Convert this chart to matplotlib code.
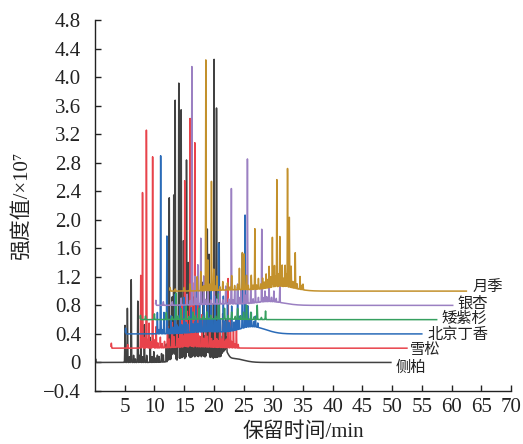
import numpy as np
import matplotlib
matplotlib.use("Agg")
import matplotlib.pyplot as plt

FAM = ['Liberation Serif', 'Noto Sans CJK SC', 'DejaVu Sans']
plt.rcParams['font.family'] = FAM

# ---------------- data ----------------
names = ['侧柏', '雪松', '北京丁香', '矮紫杉', '银杏', '月季']
colors = ['#414141', '#e8434b', '#2a6bb8', '#37a060', '#9b80c2', '#c3912c']
baselines = [0.0, 0.2, 0.4, 0.6, 0.8, 1.0]
starts = [0.0, 2.7, 5.1, 7.6, 10.2, 12.6]
ends = [49.8, 52.5, 55.0, 57.5, 60.2, 62.5]

# major peaks: (retention time min, height above baseline, x10^7)
peaks_cebai = [(0.1, 0.05), (5.05, 0.52), (5.45, 0.76), (6.1, 1.16), (7.2, 0.86),
               (7.7, 0.2), (8.3, 0.53), (9.3, 0.35), (9.9, 0.15), (10.5, 0.1),
               (11.2, 0.12), (12.5, 2.25), (13.0, 0.9), (13.25, 2.33), (13.5, 3.65),
               (14.1, 3.88), (14.5, 3.5), (14.9, 1.6), (15.4, 2.78), (15.7, 1.3),
               (16.5, 0.8), (17.1, 0.9), (18.2, 1.0), (18.9, 1.8), (19.2, 1.45),
               (19.6, 0.7), (20.05, 4.2), (20.45, 3.52), (20.9, 1.62), (21.5, 0.5),
               (22.0, 0.35)]
peaks_xuesong = [(2.75, 0.07), (5.5, 0.05), (7.7, 1.02), (8.0, 2.18), (8.65, 3.06),
                 (9.1, 0.35), (9.7, 2.68), (10.3, 0.3), (11.0, 0.15), (12.2, 0.3),
                 (13.0, 0.35), (13.8, 0.3), (14.6, 0.6), (15.1, 2.33), (15.5, 0.5),
                 (16.0, 3.2), (16.4, 0.9), (16.8, 2.86), (17.3, 0.6), (18.0, 0.45),
                 (18.6, 0.3), (19.3, 0.4), (20.2, 0.3), (21.0, 0.35), (21.6, 0.35),
                 (22.4, 0.97), (22.8, 0.4), (23.3, 0.35), (23.8, 0.25)]
peaks_dingxiang = [(5.15, 0.08), (10.5, 0.3), (11.05, 2.5), (11.6, 0.3), (12.1, 1.37),
                   (12.8, 0.25), (13.5, 0.55), (14.3, 0.4), (15.0, 0.5), (16.2, 0.35),
                   (17.0, 0.6), (17.6, 0.4), (18.3, 0.7), (19.0, 1.0), (19.5, 0.6),
                   (20.2, 0.5), (20.8, 1.24), (21.6, 0.5), (22.3, 0.4), (23.0, 0.35),
                   (24.0, 0.6), (24.8, 1.05), (25.25, 1.58), (25.7, 0.3), (26.3, 0.2),
                   (27.0, 0.15)]
peaks_aizishan = [(7.65, 0.06), (8.5, 0.05), (10.0, 0.08), (12.0, 0.1), (13.6, 0.37),
                  (14.5, 0.15), (15.3, 0.2), (16.5, 0.1), (17.5, 0.15), (18.8, 0.1),
                  (20.8, 0.35), (21.8, 0.15), (23.0, 0.1), (24.0, 0.15), (25.0, 0.1),
                  (25.5, 0.2), (26.2, 0.1), (27.3, 0.2), (28.7, 0.12)]
peaks_yinxing = [(10.25, 0.07), (11.5, 0.05), (13.0, 0.05), (14.5, 0.1), (15.5, 0.15),
                 (16.3, 3.34), (16.8, 0.4), (17.3, 0.56), (17.8, 0.93), (18.3, 0.4),
                 (19.0, 0.2), (20.0, 0.25), (21.0, 0.2), (22.0, 0.25), (22.95, 1.62),
                 (23.5, 0.2), (24.0, 0.28), (24.6, 0.2), (25.1, 0.3), (25.65, 2.03),
                 (26.2, 0.2), (27.0, 0.25), (28.06, 1.02), (28.6, 0.15), (29.3, 0.2),
                 (30.1, 0.15), (31.1, 0.24)]
peaks_yueji = [(12.65, 0.05), (13.5, 0.03), (15.0, 0.05), (16.0, 0.1), (17.2, 0.2),
               (17.8, 0.27), (18.65, 3.24), (19.0, 0.43), (19.6, 1.53), (20.0, 0.3),
               (20.5, 0.2), (21.5, 0.12), (22.3, 0.1), (23.0, 0.2), (24.3, 0.3),
               (24.8, 0.52), (25.1, 0.5), (25.5, 0.2), (26.3, 0.2), (26.9, 0.85),
               (27.5, 0.15), (28.2, 0.15), (28.8, 0.2), (29.3, 0.3), (29.85, 0.7),
               (30.2, 0.3), (30.6, 1.5), (31.1, 0.7), (31.5, 0.3), (32.0, 0.3),
               (32.4, 1.66), (32.7, 0.98), (33.0, 0.3), (33.7, 0.5), (34.5, 0.18),
               (35.0, 0.08)]

# small unresolved peaks ("grass")
grass_cebai = [(12.0, 0.25), (12.2, 0.12), (12.35, 0.4), (12.7, 0.3), (12.85, 0.45),
               (13.1, 0.4), (13.7, 0.4), (13.9, 0.6), (14.3, 0.45), (14.7, 0.5),
               (15.0, 0.3), (15.2, 0.4), (15.55, 0.25), (15.9, 0.35), (16.1, 0.22),
               (16.3, 0.4), (16.7, 0.28), (16.9, 0.2), (17.3, 0.3), (17.5, 0.22),
               (17.8, 0.28), (18.0, 0.22), (18.4, 0.3), (18.6, 0.2), (19.4, 0.28),
               (19.8, 0.35), (20.65, 0.35), (21.1, 0.3), (21.3, 0.22), (21.75, 0.28),
               (22.15, 0.2), (12.55, 0.18), (13.4, 0.22), (14.0, 0.25), (14.85, 0.22),
               (15.75, 0.15), (16.55, 0.16), (17.05, 0.22), (17.65, 0.15), (18.15, 0.18),
               (18.75, 0.22), (19.05, 0.18), (19.65, 0.22), (20.25, 0.25), (20.8, 0.22),
               (21.45, 0.18), (21.95, 0.22), (5.8, 0.08), (6.5, 0.1), (6.8, 0.05),
               (7.5, 0.1), (8.0, 0.08), (8.7, 0.1), (9.6, 0.08), (10.2, 0.06),
               (10.8, 0.08), (11.5, 0.1)]
grass_xuesong = [(7.9, 0.12), (8.3, 0.15), (8.85, 0.12), (9.4, 0.09), (9.9, 0.12),
                 (10.6, 0.07), (11.3, 0.06), (11.7, 0.09), (12.5, 0.12), (13.3, 0.15),
                 (14.0, 0.12), (14.3, 0.18), (14.9, 0.15), (15.3, 0.12), (15.8, 0.18),
                 (16.2, 0.15), (17.0, 0.18), (17.6, 0.15), (18.3, 0.12), (18.9, 0.15),
                 (19.6, 0.12), (19.9, 0.09), (20.5, 0.12), (20.8, 0.09), (21.3, 0.12),
                 (21.9, 0.09), (22.1, 0.12), (23.0, 0.09), (23.5, 0.06), (24.1, 0.05)]
grass_dingxiang = [(10.8, 0.06), (11.3, 0.06), (12.4, 0.07), (13.1, 0.09), (13.8, 0.12),
                   (14.0, 0.09), (14.6, 0.12), (15.3, 0.15), (15.7, 0.12), (16.5, 0.12),
                   (16.8, 0.15), (17.3, 0.12), (17.9, 0.18), (18.6, 0.18), (19.2, 0.2),
                   (19.8, 0.18), (20.5, 0.15), (21.1, 0.18), (21.9, 0.15), (22.6, 0.12),
                   (23.4, 0.12), (23.7, 0.15), (24.3, 0.18), (25.5, 0.12), (26.0, 0.09),
                   (26.7, 0.07), (27.4, 0.06)]
grass_yinxing = [(16.0, 0.06), (17.0, 0.09), (18.6, 0.07), (19.5, 0.06), (20.5, 0.07),
                 (21.5, 0.06), (22.5, 0.07), (23.2, 0.06), (24.3, 0.09), (25.4, 0.12),
                 (26.6, 0.06), (27.5, 0.07), (28.3, 0.06), (28.9, 0.07), (29.7, 0.06),
                 (30.5, 0.05)]
grass_yueji = [(18.0, 0.06), (18.3, 0.07), (19.3, 0.09), (20.3, 0.06), (21.0, 0.05),
               (22.7, 0.04), (23.5, 0.06), (24.0, 0.07), (25.8, 0.06), (26.6, 0.06),
               (27.2, 0.06), (27.9, 0.07), (28.5, 0.09), (29.1, 0.12), (29.6, 0.15),
               (30.0, 0.12), (30.4, 0.15), (30.9, 0.18), (31.3, 0.15), (31.8, 0.12),
               (32.2, 0.18), (33.3, 0.09), (34.0, 0.07), (34.8, 0.06)]
grass_aizishan = [(13.0, 0.04), (14.0, 0.05), (15.8, 0.04), (16.9, 0.05), (18.2, 0.04),
                  (19.5, 0.05), (20.3, 0.04), (22.4, 0.05), (23.6, 0.04), (24.5, 0.05),
                  (26.8, 0.04), (28.0, 0.03)]

# broad background humps: (centre min, height, width min)
humps_cebai = [(17.5, 0.08, 2.6), (21.9, 0.12, 0.45), (23.4, 0.05, 1.6)]
humps_xuesong = [(17.0, 0.02, 3.5)]
humps_dingxiang = [(19.0, 0.03, 3.0), (26.5, 0.1, 2.2)]
humps_aizishan = [(20.0, 0.01, 4.0)]
humps_yinxing = [(22.0, 0.02, 4.0), (29.5, 0.05, 2.3)]
humps_yueji = [(25.0, 0.02, 4.0), (31.5, 0.06, 2.2)]

peaks = [peaks_cebai, peaks_xuesong, peaks_dingxiang, peaks_aizishan, peaks_yinxing, peaks_yueji]
grass = [grass_cebai, grass_xuesong, grass_dingxiang, grass_aizishan, grass_yinxing, grass_yueji]
humps = [humps_cebai, humps_xuesong, humps_dingxiang, humps_aizishan, humps_yinxing, humps_yueji]

label_pos = [(50.6, -0.07), (53.0, 0.17), (56.0, 0.39), (58.3, 0.61), (61.0, 0.83), (63.5, 1.04)]

xticks = [5, 10, 15, 20, 25, 30, 35, 40, 45, 50, 55, 60, 65, 70]
yticks = [-0.4, 0, 0.4, 0.8, 1.2, 1.6, 2.0, 2.4, 2.8, 3.2, 3.6, 4.0, 4.4, 4.8]
ytick_labels = ['\u22120.4', '0', '0.4', '0.8', '1.2', '1.6', '2.0', '2.4', '2.8',
                '3.2', '3.6', '4.0', '4.4', '4.8']

# ---------------- drawing ----------------
fig = plt.figure(figsize=(5.23, 4.44), dpi=100)
ax = fig.add_axes([0.1816, 0.1194, 0.7954, 0.8356])


def trace(i):
    x = np.arange(starts[i], ends[i], 0.004)
    y = np.full_like(x, baselines[i])
    for (t, h, w) in humps[i]:
        y += h * np.exp(-0.5 * ((x - t) / w) ** 2)
    for (t, h) in peaks[i]:
        y += h * np.exp(-0.5 * ((x - t) / 0.035) ** 2)
    for (t, h) in grass[i]:
        y += h * np.exp(-0.5 * ((x - t) / 0.03) ** 2)
    return x, y


for i in range(len(names)):
    x, y = trace(i)
    ax.plot(x, y, color=colors[i], lw=1.1, zorder=2 + i * 0.01)
    ax.text(label_pos[i][0], label_pos[i][1], names[i], fontsize=11,
            ha='left', va='center', color='#222222', family=FAM)

ax.set_xlim(0, 70)
ax.set_ylim(-0.4, 4.8)
ax.set_xticks(xticks)
ax.set_xticklabels([str(v) for v in xticks])
ax.set_yticks(yticks)
ax.set_yticklabels(ytick_labels)
ax.tick_params(direction='in', length=4, width=1, labelsize=15, colors='#222222')
ax.tick_params(axis='y', pad=10)
ax.tick_params(axis='x', pad=5)
for s in ['top', 'right']:
    ax.spines[s].set_visible(False)
for s in ['left', 'bottom']:
    ax.spines[s].set_linewidth(1.0)
    ax.spines[s].set_color('#222222')

ax.set_xlabel('保留时间/min', fontsize=15, labelpad=4, color='#222222')
ax.set_ylabel('强度值/×10\u2077', fontsize=15, labelpad=8, color='#222222')

fig.savefig('out.png', dpi=100)
